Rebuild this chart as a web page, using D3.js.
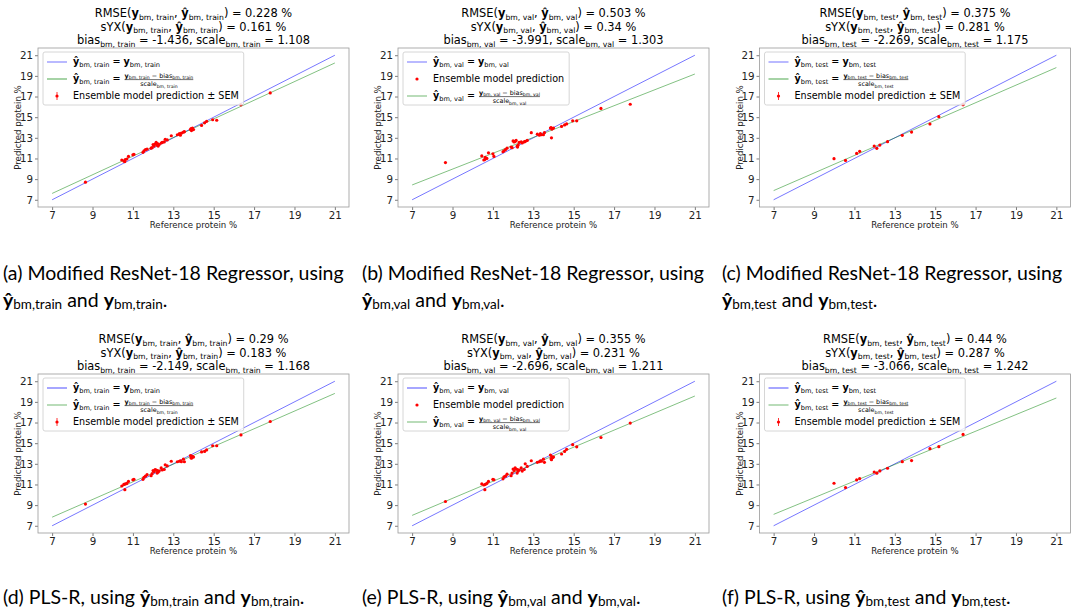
<!DOCTYPE html>
<html>
<head>
<meta charset="utf-8">
<script src="https://cdn.jsdelivr.net/npm/d3@7"></script>
<style>
body { margin: 0; background: #fff; }
svg text { font-family: "DejaVu Sans", sans-serif; white-space: pre; }
svg text.cap { font-family: Lato, sans-serif; }
</style>
</head>
<body>
<script>
const width = 1075, height = 613;

// axis ticks and subplot labels
const ticks = [7, 9, 11, 13, 15, 17, 19, 21];
const subsets = ["train", "val", "test", "train", "val", "test"];
const letters = ["a", "b", "c", "d", "e", "f"];
const models = ["Modified ResNet-18 Regressor", "Modified ResNet-18 Regressor", "Modified ResNet-18 Regressor",
                "PLS-R", "PLS-R", "PLS-R"];

// statistics in the titles
const rmse = [0.228, 0.503, 0.375, 0.29, 0.355, 0.44];
const syx = [0.161, 0.34, 0.281, 0.183, 0.231, 0.287];
const bias = [-1.436, -3.991, -2.269, -2.149, -2.696, -3.066];
const scale = [1.108, 1.303, 1.175, 1.168, 1.211, 1.242];

// reference protein % (train / val share the same samples)
const refTrainVal = [8.65, 10.45, 10.55, 10.6, 10.62, 10.7, 10.78, 11.0, 11.05, 11.5, 11.55, 11.62, 11.7, 11.9,
  11.95, 12.0, 12.05, 12.1, 12.15, 12.2, 12.22, 12.25, 12.3, 12.4, 12.45, 12.55, 12.6, 12.7, 12.9, 13.2,
  13.3, 13.35, 13.4, 13.5, 13.55, 13.85, 13.88, 13.9, 13.92, 13.95, 14.0, 14.4, 14.55, 14.65, 14.95,
  15.15, 16.35, 17.8];
const refTest = [9.99, 10.56, 11.11, 11.26, 11.98, 12.11, 12.26, 12.64, 13.37, 13.83, 14.74, 15.18, 16.38];

// predicted protein %
const predA = [8.7, 10.85, 10.75, 10.7, 10.9, 10.95, 11.2, 11.35, 11.4, 11.6, 11.75, 11.85, 11.9, 12.0,
  12.05, 12.35, 12.2, 12.4, 12.55, 12.3, 12.45, 12.2, 12.35, 12.5, 12.55, 12.6, 12.85, 12.8, 13.2, 13.3,
  13.4, 13.25, 13.45, 13.55, 13.6, 13.8, 13.9, 13.7, 13.85, 13.95, 13.8, 14.2, 14.45, 14.6, 14.75,
  14.7, 16.2, 17.35];
const predB = [10.6, 11.25, 10.85, 10.9, 11.1, 11.0, 11.55, 11.45, 11.2, 11.65, 11.75, 11.85, 12.0, 12.1,
  12.05, 12.7, 12.6, 12.65, 12.75, 12.2, 12.1, 12.3, 12.55, 12.6, 12.5, 12.6, 12.65, 12.75, 13.5, 13.35,
  13.25, 13.4, 13.3, 13.3, 13.5, 13.95, 14.0, 13.0, 13.85, 13.9, 13.95, 14.1, 14.25, 14.35, 14.65,
  14.65, 15.85, 16.25];
const predC = [10.98, 10.81, 11.49, 11.69, 12.2, 11.98, 12.3, 12.63, 13.24, 13.56, 14.34, 15.05, 16.21];
const predD = [9.1, 10.85, 11.0, 10.5, 11.05, 11.1, 11.3, 11.45, 11.5, 11.5, 11.7, 11.8, 11.95, 11.85,
  12.05, 12.35, 12.25, 12.45, 12.4, 12.1, 12.35, 12.2, 12.3, 12.6, 12.4, 12.45, 12.9, 12.8, 13.25, 13.2,
  13.25, 13.3, 13.2, 13.45, 13.2, 13.8, 13.6, 13.55, 13.75, 13.7, 13.65, 14.15, 14.2, 14.35, 14.75,
  14.75, 15.8, 17.1];
const predE = [9.35, 11.05, 10.95, 10.5, 11.0, 11.1, 11.3, 11.5, 11.45, 11.55, 11.75, 11.8, 12.0, 11.85,
  12.1, 12.5, 12.35, 12.6, 12.5, 12.1, 12.45, 12.3, 12.4, 12.6, 12.3, 12.45, 13.0, 12.75, 13.3, 13.15,
  13.2, 13.3, 13.25, 13.45, 13.15, 13.85, 13.5, 13.4, 13.7, 13.6, 13.65, 13.95, 14.2, 14.4, 14.85,
  14.65, 15.55, 16.95];
const predF = [11.12, 10.7, 11.44, 11.57, 12.21, 12.09, 12.31, 12.57, 13.21, 13.31, 14.47, 14.66, 15.85];

// standard error of the ensemble mean
const semC = [0.12, 0.1, 0.1, 0.12, 0.1, 0.1, 0.1, 0.12, 0.1, 0.1, 0.12, 0.12, 0.15];
const semF = [0.08, 0.08, 0.06, 0.06, 0.06, 0.06, 0.06, 0.08, 0.06, 0.06, 0.08, 0.08, 0.1];
const semTrainA = 0.06, semTrainD = 0.04;

const panels = [
  { ref: refTrainVal, pred: predA, sem: refTrainVal.map(() => semTrainA), legend: ["blue", "green", "err"], thick: "green" },
  { ref: refTrainVal, pred: predB, sem: null, legend: ["blue", "dot", "green"], thick: null },
  { ref: refTest, pred: predC, sem: semC, legend: ["blue", "green", "err"], thick: "green" },
  { ref: refTrainVal, pred: predD, sem: refTrainVal.map(() => semTrainD), legend: ["blue", "green", "err"], thick: "blue" },
  { ref: refTrainVal, pred: predE, sem: null, legend: ["blue", "dot", "green"], thick: "blue" },
  { ref: refTest, pred: predF, sem: semF, legend: ["blue", "green", "err"], thick: "blue" }
];

const blue = "#0000ff", green = "#008000";

var svg = d3.select("body").append("svg")
  .attr("width", width)
  .attr("height", height);

// writes text made of parts {t, b: bold, s: subscript}; uses relative dy so anchors keep working
function mathText(sel, parts, base, fs, subFs, subDy) {
  sel.attr("y", base);
  let cur = 0;
  parts.forEach(function (p) {
    const want = p.s ? subDy : 0;
    sel.append("tspan")
      .attr("dy", want - cur)
      .style("font-size", (p.s ? subFs : fs) + "px")
      .style("font-weight", p.b ? "bold" : null)
      .text(p.t);
    cur = want;
  });
  return sel;
}

const colX = [0, 360, 721.5], rowY = [48, 374];
const axL = 38, axW = 311, axH = 159;

panels.forEach(function (p, i) {
  const ox = colX[i % 3] + axL, oy = rowY[Math.floor(i / 3)];
  const sub = "bm, " + subsets[i];
  const g = svg.append("g").attr("transform", "translate(" + ox + "," + oy + ")");

  const x = d3.scaleLinear().domain([6.3, 21.7]).range([0, axW]);
  const y = d3.scaleLinear().domain([6.3, 21.7]).range([axH, 0]);

  // titles
  const tfs = 11.4, tsub = 7.7, tdy = 2.6;
  mathText(g.append("text").attr("x", axW / 2).attr("text-anchor", "middle"),
    [{ t: "RMSE(" }, { t: "y", b: 1 }, { t: sub, s: 1 }, { t: ", " }, { t: "ŷ", b: 1 }, { t: sub, s: 1 },
     { t: ") = " + rmse[i] + " %" }], -31, tfs, tsub, tdy);
  mathText(g.append("text").attr("x", axW / 2).attr("text-anchor", "middle"),
    [{ t: "sYX(" }, { t: "y", b: 1 }, { t: sub, s: 1 }, { t: ", " }, { t: "ŷ", b: 1 }, { t: sub, s: 1 },
     { t: ") = " + syx[i] + " %" }], -17.5, tfs, tsub, tdy);
  mathText(g.append("text").attr("x", axW / 2).attr("text-anchor", "middle"),
    [{ t: "bias" }, { t: sub, s: 1 }, { t: " = " + bias[i] + ", scale" }, { t: sub, s: 1 },
     { t: " = " + scale[i] }], -4, tfs, tsub, tdy);

  // axes
  const xa = g.append("g").attr("transform", "translate(0," + axH + ")")
    .call(d3.axisBottom(x).tickValues(ticks).tickSize(3).tickPadding(2));
  const ya = g.append("g")
    .call(d3.axisLeft(y).tickValues(ticks).tickSize(3).tickPadding(2));
  [xa, ya].forEach(function (a) {
    a.select(".domain").remove();
    a.selectAll("line").attr("stroke", "#444").attr("stroke-width", 0.7);
    a.selectAll("text").style("font-size", "10.3px").attr("fill", "#222")
      .style("font-family", "'DejaVu Sans', sans-serif");
  });

  g.append("rect").attr("width", axW).attr("height", axH)
    .attr("fill", "none").attr("stroke", "#999").attr("stroke-width", 0.8);

  g.append("text").attr("x", axW / 2).attr("y", axH + 20.5).attr("text-anchor", "middle")
    .style("font-size", "8.6px").attr("fill", "#222").text("Reference protein %");
  g.append("text").attr("transform", "translate(-17," + axH / 2 + ") rotate(-90)")
    .attr("text-anchor", "middle").style("font-size", "8.6px").attr("fill", "#222")
    .text("Predicted protein %");

  // identity and bias/scale lines
  const fit = function (v) { return (v - bias[i]) / scale[i]; };
  g.append("line")
    .attr("x1", x(7)).attr("y1", y(7)).attr("x2", x(21)).attr("y2", y(21))
    .attr("stroke", blue).attr("stroke-opacity", 0.6).attr("stroke-width", 0.9);
  g.append("line")
    .attr("x1", x(7)).attr("y1", y(fit(7))).attr("x2", x(21)).attr("y2", y(fit(21)))
    .attr("stroke", green).attr("stroke-opacity", 0.55).attr("stroke-width", 0.9);

  // predictions
  const pts = p.ref.map(function (r, k) { return { r: r, v: p.pred[k], e: p.sem ? p.sem[k] : 0 }; });
  if (p.sem) {
    g.selectAll(".err").data(pts).enter().append("line").attr("class", "err")
      .attr("x1", d => x(d.r)).attr("x2", d => x(d.r))
      .attr("y1", d => y(d.v - d.e)).attr("y2", d => y(d.v + d.e))
      .attr("stroke", "red").attr("stroke-width", 0.8);
  }
  g.selectAll(".pt").data(pts).enter().append("circle").attr("class", "pt")
    .attr("cx", d => x(d.r)).attr("cy", d => y(d.v)).attr("r", 1.6)
    .attr("fill", "red");

  // legend
  const lg = g.append("g").attr("transform", "translate(5,4)");
  const box = lg.append("rect").attr("rx", 2).attr("height", 53)
    .attr("fill", "#fff").attr("fill-opacity", 0.8).attr("stroke", "#ccc").attr("stroke-width", 0.8);
  const lfs = 9.6, lsub = 6.6, ldy = 2;
  let maxEnd = 0;
  p.legend.forEach(function (kind, k) {
    const ry = 10 + k * 17;
    const tx = 30;
    if (kind === "blue" || kind === "green") {
      const col = kind === "blue" ? blue : green;
      const thick = p.thick === kind;
      lg.append("line").attr("x1", 4).attr("x2", 24).attr("y1", ry).attr("y2", ry)
        .attr("stroke", col).attr("stroke-opacity", thick ? 0.35 : 0.55)
        .attr("stroke-width", thick ? 2 : 1);
    } else {
      if (kind === "err") {
        lg.append("line").attr("x1", 14).attr("x2", 14).attr("y1", ry - 4).attr("y2", ry + 4)
          .attr("stroke", "red").attr("stroke-width", 0.8);
      }
      lg.append("circle").attr("cx", 14).attr("cy", ry).attr("r", 1.6).attr("fill", "red");
    }
    let t, end;
    if (kind === "blue") {
      t = mathText(lg.append("text").attr("x", tx),
        [{ t: "ŷ", b: 1 }, { t: sub, s: 1 }, { t: " = " }, { t: "y", b: 1 }, { t: sub, s: 1 }],
        ry + 3.4, lfs, lsub, ldy);
      end = tx + t.node().getComputedTextLength();
    } else if (kind === "green") {
      t = mathText(lg.append("text").attr("x", tx),
        [{ t: "ŷ", b: 1 }, { t: sub, s: 1 }, { t: " = " }],
        ry + 3.4, lfs, lsub, ldy);
      const fx = tx + t.node().getComputedTextLength() + 1;
      const num = mathText(lg.append("text").attr("x", fx),
        [{ t: "y", b: 1 }, { t: sub, s: 1 }, { t: " − bias" }, { t: sub, s: 1 }],
        ry - 1.4, 6.4, 4.6, 1.3);
      const nw = num.node().getComputedTextLength();
      lg.append("line").attr("x1", fx).attr("x2", fx + nw).attr("y1", ry + 0.6).attr("y2", ry + 0.6)
        .attr("stroke", "#111").attr("stroke-width", 0.6);
      mathText(lg.append("text").attr("x", fx + nw / 2).attr("text-anchor", "middle"),
        [{ t: "scale" }, { t: sub, s: 1 }], ry + 7.2, 6.4, 4.6, 1.3);
      end = fx + nw;
    } else {
      t = lg.append("text").attr("x", tx).attr("y", ry + 3.4).style("font-size", lfs + "px")
        .text(kind === "err" ? "Ensemble model prediction ± SEM" : "Ensemble model prediction");
      end = tx + t.node().getComputedTextLength();
    }
    maxEnd = Math.max(maxEnd, end);
  });
  box.attr("width", maxEnd + 5);
});

// captions
const capX = [3, 362, 722];
const capFs = 19.5;
function capSym(sub) {
  return [{ t: "ŷ", b: 1 }, { t: "bm," + sub, s: 1 }, { t: " and " }, { t: "y", b: 1 }, { t: "bm," + sub, s: 1 }, { t: "." }];
}
letters.forEach(function (l, i) {
  const cx = capX[i % 3];
  if (i < 3) {
    svg.append("text").attr("class", "cap").attr("x", cx).attr("y", 280)
      .style("font-size", capFs + "px").text("(" + l + ") " + models[i] + ", using");
    mathText(svg.append("text").attr("class", "cap").attr("x", cx), capSym(subsets[i]), 307, capFs, 13.5, 2);
  } else {
    mathText(svg.append("text").attr("class", "cap").attr("x", cx),
      [{ t: "(" + l + ") " + models[i] + ", using " }].concat(capSym(subsets[i])), 604, capFs, 13.5, 2);
  }
});
</script>
</body>
</html>
